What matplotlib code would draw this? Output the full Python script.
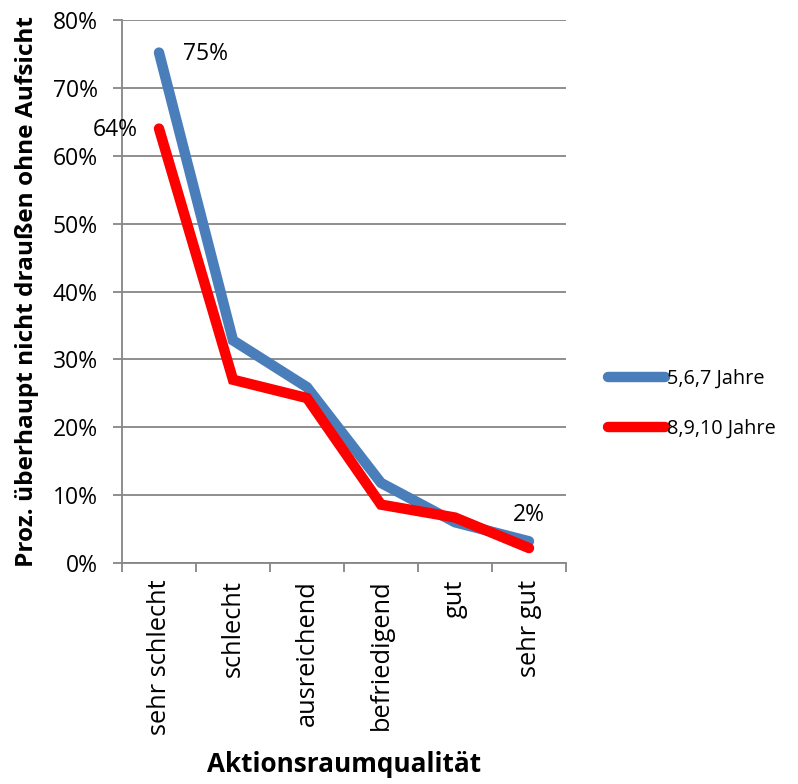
import matplotlib.pyplot as plt
import numpy as np

categories = ["sehr schlecht", "schlecht", "ausreichend", "befriedigend", "gut", "sehr gut"]
young = [0.752, 0.328, 0.259, 0.118, 0.060, 0.032]
older = [0.640, 0.270, 0.243, 0.086, 0.067, 0.022]
series_names = ["5,6,7 Jahre", "8,9,10 Jahre"]
yticks = [0, 0.1, 0.2, 0.3, 0.4, 0.5, 0.6, 0.7, 0.8]

plt.rcParams['font.family'] = ['Open Sans', 'DejaVu Sans']

fig = plt.figure(figsize=(7.98, 7.84), dpi=100)
ax = fig.add_axes([122 / 798, 1 - 563 / 784, 444 / 798, 543 / 784])

x = np.arange(len(categories))
blue, = ax.plot(x, young, color="#4a7ebb", lw=7.5, solid_capstyle="round",
                solid_joinstyle="miter", label=series_names[0], zorder=3)
red, = ax.plot(x, older, color="#ff0000", lw=7.5, solid_capstyle="round",
               solid_joinstyle="miter", label=series_names[1], zorder=4)

# value labels
ax.annotate(f"{young[0]:.0%}", (x[0], young[0]), xytext=(17, -1), textcoords="offset points",
            fontsize=16.5, va="center", ha="left")
ax.annotate(f"{older[0]:.0%}", (x[0], older[0]), xytext=(-15, -1), textcoords="offset points",
            fontsize=16.5, va="center", ha="right")
ax.annotate(f"{older[-1]:.0%}", (x[-1], older[-1]), xytext=(0, 24), textcoords="offset points",
            fontsize=16.5, va="center", ha="center")

ax.set_xlim(-0.5, len(categories) - 0.5)
ax.set_ylim(0, 0.8)
ax.set_yticks(yticks)
ax.set_yticklabels([f"{t:.0%}" for t in yticks], fontsize=16.5)
ax.set_xticks(x)
ax.set_xticklabels(categories, rotation=90, fontsize=18.3)
ax.set_xticks(np.arange(len(categories) + 1) - 0.5, minor=True)
ax.tick_params(axis="x", which="major", length=0, pad=12)
ax.tick_params(axis="x", which="minor", length=6.5, color="#868686", width=1.3)
ax.tick_params(axis="y", length=6.5, color="#868686", width=1.3, pad=11)

ax.grid(axis="y", color="#868686", lw=1.3)
ax.set_axisbelow(True)
for side in ["top", "right"]:
    ax.spines[side].set_visible(False)
for side in ["left", "bottom"]:
    ax.spines[side].set_color("#868686")
    ax.spines[side].set_linewidth(1.3)

ax.set_xlabel("Aktionsraumqualität", fontsize=18.8, fontweight="bold", labelpad=11)
ax.set_ylabel("Proz. überhaupt nicht draußen ohne Aufsicht", fontsize=17.6,
              fontweight="bold", labelpad=10)

fig.legend(handles=[blue, red], loc="center left", bbox_to_anchor=(590 / 798, 1 - 404 / 784),
           frameon=False, fontsize=14.3, handlelength=2.86, handletextpad=0.1,
           labelspacing=1.5)

fig.savefig("out.png", dpi=100)
